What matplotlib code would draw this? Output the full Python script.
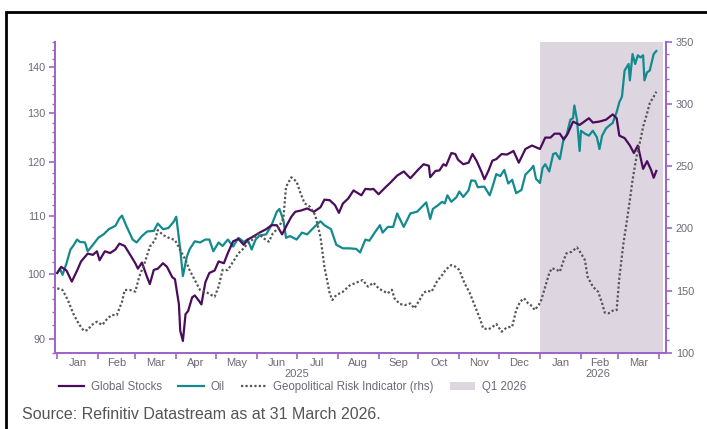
import matplotlib
matplotlib.use("Agg")
import matplotlib.pyplot as plt
import matplotlib.dates as mdates
from matplotlib.lines import Line2D
from matplotlib.patches import Patch, Rectangle
import matplotlib.ticker as mticker
import pandas as pd

plt.rcParams['font.family'] = ['Liberation Sans', 'DejaVu Sans']

start = pd.Timestamp("2025-01-01")

# days since 1 Jan 2025, index level (lhs, log scale)
stocks_day = [0, 3, 7, 11, 15, 18, 23, 27, 30, 32, 36, 40, 44, 47, 51, 56, 59, 61, 64, 68,
              70, 73, 76, 80, 83, 87, 89, 92, 93, 95, 97, 99, 102, 104, 107, 109, 112, 115, 119, 122,
              126, 129, 133, 137, 141, 144, 148, 153, 158, 162, 166, 170, 174, 177, 180, 184, 189, 194, 199, 202,
              206, 210, 213, 216, 220, 224, 230, 233, 237, 239, 243, 247, 252, 257, 262, 267, 272, 277, 281, 282,
              286, 289, 292, 294, 298, 301, 303, 307, 311, 314, 317, 321, 323, 326, 329, 332, 336, 340, 345, 349,
              354, 359, 365, 369, 373, 376, 380, 383, 386, 390, 395, 402, 405, 410, 415, 420, 423, 425, 429, 433,
              436, 439, 443, 446, 449, 451, 453]
stocks = [100.2, 101.2, 100.6, 98.8, 100.6, 102.1, 103.4, 103.2, 103.8, 102.3, 103.8, 103.5, 104.1, 105.1, 104.7, 102.9, 101.8, 100.9, 101.9, 99.5,
          98.4, 100.7, 100.9, 101.8, 101.2, 99.5, 99.2, 95.2, 91.2, 89.7, 93.7, 94.2, 96.3, 96.6, 95.8, 95.2, 98.7, 100.2, 100.6, 102.1,
          101.8, 103.5, 105.5, 105.9, 104.9, 105.8, 106.3, 107.0, 107.6, 108.3, 108.3, 106.7, 108.5, 109.8, 110.7, 110.9, 111.3, 110.7, 111.5, 112.9,
          112.8, 111.9, 110.5, 112.2, 113.1, 114.6, 113.7, 114.9, 114.8, 114.9, 113.9, 114.9, 116.1, 117.4, 118.2, 116.9, 118.3, 119.6, 119.3, 117.1,
          118.3, 118.4, 119.6, 119.3, 121.8, 121.6, 120.5, 119.6, 119.9, 121.6, 120.3, 118.0, 116.7, 118.3, 120.3, 120.6, 121.6, 121.5, 122.2, 119.9,
          122.6, 123.3, 122.6, 124.9, 124.9, 125.7, 125.7, 124.5, 125.7, 128.2, 127.5, 128.9, 128.0, 128.2, 128.6, 129.7, 128.9, 125.3, 124.8, 123.3,
          121.8, 123.3, 118.7, 120.2, 118.5, 117.0, 118.3]

oil_day = [0, 2, 4, 7, 10, 12, 15, 17, 21, 23, 27, 31, 35, 39, 44, 47, 49, 52, 57, 60,
           64, 68, 73, 76, 80, 84, 88, 90, 93, 95, 98, 100, 104, 108, 112, 115, 118, 122, 125, 129,
           133, 137, 141, 144, 147, 150, 153, 158, 162, 166, 168, 171, 173, 176, 181, 185, 189, 194, 199, 202,
           207, 211, 216, 221, 226, 229, 233, 236, 240, 244, 246, 250, 254, 257, 262, 267, 272, 275, 279, 282,
           284, 288, 291, 293, 295, 298, 302, 304, 307, 311, 313, 316, 318, 321, 323, 327, 329, 332, 335, 338,
           341, 344, 347, 351, 354, 358, 360, 362, 365, 367, 369, 372, 375, 377, 380, 383, 385, 388, 390, 391,
           393, 395, 396, 399, 402, 405, 408, 410, 412, 415, 418, 420, 423, 425, 427, 429, 432, 433, 435, 437,
           439, 441, 443, 444, 446, 448, 451, 453]
oil = [100.2, 100.9, 99.9, 101.8, 104.1, 104.7, 105.8, 105.4, 105.3, 103.8, 104.9, 106.1, 106.7, 107.6, 108.2, 109.5, 110.0, 108.3, 105.8, 105.3,
       106.4, 107.2, 107.3, 108.6, 107.6, 107.8, 108.9, 109.8, 104.1, 99.7, 102.9, 104.1, 105.5, 105.3, 105.8, 105.8, 103.8, 105.3, 104.7, 105.8,
       104.6, 106.1, 105.4, 105.8, 104.1, 105.8, 106.5, 106.7, 108.3, 110.7, 111.2, 109.2, 106.1, 106.4, 105.8, 107.0, 106.7, 107.9, 109.0, 108.3,
       107.6, 104.9, 104.3, 104.3, 104.2, 103.6, 105.8, 105.6, 107.0, 108.3, 107.0, 108.0, 108.0, 110.4, 108.0, 110.4, 110.7, 111.4, 112.4, 109.4,
       111.2, 111.9, 112.5, 112.2, 113.7, 112.5, 113.4, 114.4, 113.4, 114.6, 116.5, 116.4, 115.2, 115.3, 115.3, 113.7, 115.2, 117.7, 117.3, 118.5,
       115.9, 116.6, 114.1, 114.7, 117.6, 118.6, 119.3, 116.8, 116.0, 118.9, 119.6, 118.2, 121.6, 121.8, 120.6, 124.8, 125.3, 128.6, 128.9, 131.6,
       128.6, 122.2, 126.3, 125.7, 125.3, 126.3, 125.0, 122.6, 125.3, 126.8, 127.5, 127.9, 130.2, 132.3, 133.5, 139.3, 140.8, 137.1, 143.1, 140.8,
       142.8, 142.3, 142.8, 137.1, 138.9, 139.3, 143.1, 143.8]

# geopolitical risk indicator (rhs)
risk_day = [0, 4, 8, 12, 16, 20, 23, 26, 30, 34, 37, 41, 45, 49, 51, 55, 59, 62, 66, 70,
            74, 76, 80, 85, 89, 93, 97, 100, 104, 108, 112, 115, 119, 122, 125, 129, 133, 137, 141, 144,
            148, 152, 156, 160, 163, 167, 171, 173, 177, 181, 184, 187, 191, 195, 199, 202, 206, 208, 211, 216,
            221, 226, 231, 235, 239, 243, 246, 250, 253, 255, 259, 263, 267, 270, 274, 277, 280, 283, 287, 291,
            294, 298, 301, 304, 308, 312, 316, 320, 322, 326, 329, 332, 336, 340, 344, 347, 350, 353, 356, 359,
            361, 364, 366, 369, 372, 374, 378, 380, 383, 385, 389, 393, 396, 399, 401, 405, 409, 412, 414, 417,
            420, 423, 425, 428, 430, 433, 435, 438, 441, 443, 446, 448, 451, 453]
risk = [151.8, 150.4, 142.4, 131.7, 123.6, 117.7, 118.2, 122.3, 124.9, 122.3, 126.3, 130.3, 130.3, 141.0, 150.4, 150.4, 149.1, 161.1, 171.9, 185.2,
        190.6, 198.6, 194.6, 192.0, 190.6, 182.6, 174.5, 166.5, 158.4, 150.4, 149.1, 147.2, 145.0, 153.1, 166.5, 166.5, 173.2, 179.9, 183.9, 187.9,
        191.2, 196.0, 192.0, 189.2, 196.0, 200.0, 208.0, 233.4, 241.0, 237.5, 228.1, 220.1, 217.4, 210.7, 193.3, 169.1, 147.8, 142.4, 146.4, 149.0,
        154.0, 156.3, 158.4, 153.1, 156.3, 151.8, 149.8, 147.8, 150.6, 143.7, 139.2, 138.3, 139.6, 135.7, 142.4, 148.2, 149.8, 149.0, 157.1, 162.5,
        167.0, 170.5, 169.2, 166.5, 155.8, 147.8, 137.0, 126.3, 119.6, 118.8, 120.6, 123.1, 116.9, 120.4, 120.9, 134.3, 141.0, 143.7, 139.7, 137.5,
        134.3, 138.3, 142.4, 153.1, 163.8, 167.9, 166.5, 165.1, 174.5, 179.9, 181.2, 184.7, 179.9, 174.5, 161.1, 153.1, 149.0, 139.7, 132.2, 131.7,
        133.8, 134.3, 160.0, 187.0, 201.0, 222.8, 238.8, 257.6, 271.0, 281.7, 292.4, 300.5, 305.8, 309.8]

month_labels = ["Jan", "Feb", "Mar", "Apr", "May", "Jun", "Jul", "Aug", "Sep", "Oct", "Nov", "Dec",
                "Jan", "Feb", "Mar"]
year_labels = ["2025", "2026"]
legend_labels = ["Global Stocks", "Oil", "Geopolitical Risk Indicator (rhs)", "Q1 2026"]
source_text = "Source: Refinitiv Datastream as at 31 March 2026."

purple = "#4b0c5c"
teal = "#138a8d"
grey = "#555555"
shade = "#ddd6e0"
axis_col = "#a064c8"
label_col = "#6a6a78"

def to_dates(days):
    return start + pd.to_timedelta(days, unit="D")

fig = plt.figure(figsize=(7.07, 4.29), dpi=100)
ax = fig.add_axes([0.0778, 0.1778, 0.8642, 0.725])
ax2 = ax.twinx()

q1_start = pd.Timestamp("2026-01-01")
q1_end = pd.Timestamp("2026-04-04")
ax.axvspan(q1_start, q1_end, color=shade, lw=0, zorder=0)

ax.plot(to_dates(stocks_day), stocks, color=purple, lw=1.6, zorder=3)
ax.plot(to_dates(oil_day), oil, color=teal, lw=1.6, zorder=2)
ax2.plot(to_dates(risk_day), risk, color=grey, lw=1.6, linestyle=(0, (1, 1)))

ax.set_yscale("log")
ax.set_ylim(88, 146)
ax.yaxis.set_major_locator(mticker.FixedLocator([90, 100, 110, 120, 130, 140]))
ax.yaxis.set_major_formatter(mticker.FixedFormatter(["90", "100", "110", "120", "130", "140"]))
ax.yaxis.set_minor_locator(mticker.FixedLocator(list(range(88, 147, 2))))
ax.yaxis.set_minor_formatter(mticker.NullFormatter())

ax2.set_ylim(100, 350)
ax2.yaxis.set_major_locator(mticker.MultipleLocator(50))
ax2.yaxis.set_minor_locator(mticker.MultipleLocator(10))

ax.set_xlim(start - pd.Timedelta(days=1.7), start + pd.Timedelta(days=460.3))

month_starts = pd.date_range("2025-01-01", "2026-04-01", freq="MS")
mids = [month_starts[i] + (month_starts[i + 1] - month_starts[i]) / 2 for i in range(len(month_starts) - 1)]
ax.xaxis.set_major_locator(mticker.FixedLocator(mdates.date2num(month_starts)))
ax.xaxis.set_major_formatter(mticker.NullFormatter())
ax.xaxis.set_minor_locator(mticker.FixedLocator(mdates.date2num(mids)))
ax.xaxis.set_minor_formatter(mticker.FixedFormatter(month_labels))
ax.tick_params(axis="x", which="minor", length=0, pad=4, labelsize=8, labelcolor=label_col)
ax.tick_params(axis="x", which="major", length=4, width=1.2, color=axis_col)

year_pos = [pd.Timestamp("2025-07-01"), pd.Timestamp("2026-02-14")]
for xp, lab in zip(year_pos, year_labels):
    ax.text(xp, -0.07, lab, transform=ax.get_xaxis_transform(), ha="center", va="center",
            fontsize=8, color=label_col)

ax.tick_params(axis="y", which="major", length=4, width=1.2, color=axis_col, labelsize=7.8, labelcolor=label_col, pad=3)
ax.tick_params(axis="y", which="minor", length=2.5, width=1.0, color=axis_col)
ax2.tick_params(axis="y", which="major", length=4, width=1.2, color=axis_col, labelsize=7.8, labelcolor=label_col, pad=3)
ax2.tick_params(axis="y", which="minor", length=2.5, width=1.0, color=axis_col)

for a in (ax, ax2):
    a.spines["top"].set_visible(False)
    for s in ("left", "right", "bottom"):
        a.spines[s].set_color(axis_col)
        a.spines[s].set_linewidth(1.3)

handles = [Line2D([], [], color=purple, lw=1.6),
           Line2D([], [], color=teal, lw=1.6),
           Line2D([], [], color=grey, lw=1.6, linestyle=(0, (1, 1))),
           Patch(facecolor=shade, edgecolor="none")]
leg = fig.legend(handles, legend_labels, ncol=4, loc="center left", bbox_to_anchor=(0.072, 0.098),
                 frameon=False, fontsize=8.3, handlelength=2.2, handletextpad=0.6, columnspacing=1.4,
                 borderpad=0.2)
for t in leg.get_texts():
    t.set_color(label_col)

fig.text(0.031, 0.033, source_text, fontsize=11.5, color="#555555", va="center", ha="left")

# black frame of the slide (cut at top/right)
fig.add_artist(Rectangle((6 / 707, -0.1), 1.2, 1.1 - 12.5 / 429, transform=fig.transFigure,
                         fill=False, edgecolor="black", lw=2.0))

fig.savefig("out.png", dpi=100)
